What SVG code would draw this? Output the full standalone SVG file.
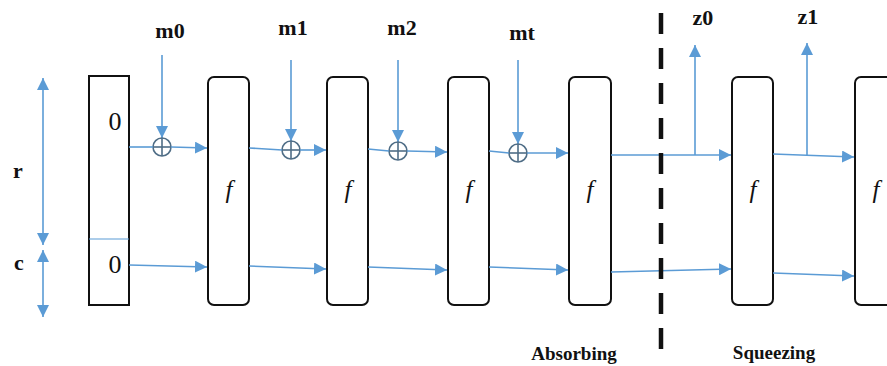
<svg xmlns="http://www.w3.org/2000/svg" width="887" height="366" viewBox="0 0 887 366">
<style>
.box{fill:#fff;stroke:#111;stroke-width:2}
.ln{stroke:#5b9bd5;stroke-width:1.6;fill:none}
.xor{fill:none;stroke:#4f6d86;stroke-width:1.6}
.lbl{font-weight:bold;font-size:22px;fill:#111;text-anchor:middle}
.zero{font-size:26px;fill:#111;text-anchor:middle}
.fn{font-style:italic;font-size:25px;fill:#111;text-anchor:middle}
.phase{font-weight:bold;font-size:19px;fill:#111;text-anchor:middle}
</style>
<defs>
<marker id="ah" markerWidth="12" markerHeight="12" refX="10" refY="5" orient="auto" markerUnits="userSpaceOnUse" viewBox="0 0 10 10">
<path d="M0,0 L10,5 L0,10 Z" fill="#5b9bd5"/>
</marker>
<marker id="ahs" markerWidth="12" markerHeight="12" refX="10" refY="5" orient="auto-start-reverse" markerUnits="userSpaceOnUse" viewBox="0 0 10 10">
<path d="M0,0 L10,5 L0,10 Z" fill="#5b9bd5"/>
</marker>
</defs>
<rect width="887" height="366" fill="#fff"/>

<g font-family="Liberation Serif, DejaVu Serif, Noto Serif, serif">
<g id="state">
<rect class="box" x="89" y="76" width="40" height="229"/>
<line x1="89" y1="239" x2="129" y2="239" stroke="#5b9bd5" stroke-width="1.2"/>
<text class="zero" x="115" y="130">0</text>
<text class="zero" x="115" y="273">0</text>
</g>
<g id="f1"><rect class="box" x="208" y="77" width="41" height="228" rx="6"/><text class="fn" x="229" y="198">f</text></g>
<g id="f2"><rect class="box" x="327" y="77" width="41" height="228" rx="6"/><text class="fn" x="348" y="198">f</text></g>
<g id="f3"><rect class="box" x="448" y="77" width="41" height="228" rx="6"/><text class="fn" x="469" y="198">f</text></g>
<g id="f4"><rect class="box" x="569" y="77" width="42" height="228" rx="6"/><text class="fn" x="590" y="198">f</text></g>
<g id="f5"><rect class="box" x="732" y="77" width="41" height="228" rx="6"/><text class="fn" x="753" y="198">f</text></g>
<g id="f6"><rect class="box" x="855" y="77" width="41" height="228" rx="6"/><text class="fn" x="876" y="198">f</text></g>

<g id="labels">
<text class="lbl" x="18" y="178">r</text>
<text class="lbl" x="19" y="270">c</text>
<text class="lbl" x="170" y="38">m0</text>
<text class="lbl" x="293" y="35">m1</text>
<text class="lbl" x="402" y="35">m2</text>
<text class="lbl" x="522" y="40">mt</text>
<text class="lbl" x="703" y="25">z0</text>
<text class="lbl" x="808" y="24">z1</text>
<text class="phase" x="574" y="360">Absorbing</text>
<text class="phase" x="774" y="359">Squeezing</text>
</g>
</g>

<g id="connectors">
<line class="ln" x1="43" y1="78" x2="43" y2="245" marker-start="url(#ahs)" marker-end="url(#ah)"/>
<line class="ln" x1="43" y1="250" x2="43" y2="317" marker-start="url(#ahs)" marker-end="url(#ah)"/>
<line class="ln" x1="162" y1="55" x2="162" y2="138" marker-end="url(#ah)"/>
<line class="ln" x1="291" y1="60" x2="291" y2="141" marker-end="url(#ah)"/>
<line class="ln" x1="398" y1="60" x2="398" y2="142" marker-end="url(#ah)"/>
<line class="ln" x1="518" y1="60" x2="518" y2="144" marker-end="url(#ah)"/>
<circle class="xor" cx="162" cy="147" r="9"/><line class="xor" x1="153" y1="147" x2="171" y2="147"/><line class="xor" x1="162" y1="138" x2="162" y2="156"/>
<circle class="xor" cx="291" cy="150" r="9"/><line class="xor" x1="282" y1="150" x2="300" y2="150"/><line class="xor" x1="291" y1="141" x2="291" y2="159"/>
<circle class="xor" cx="398" cy="151" r="9"/><line class="xor" x1="389" y1="151" x2="407" y2="151"/><line class="xor" x1="398" y1="142" x2="398" y2="160"/>
<circle class="xor" cx="518" cy="153" r="9"/><line class="xor" x1="509" y1="153" x2="527" y2="153"/><line class="xor" x1="518" y1="144" x2="518" y2="162"/>
<line class="ln" x1="129" y1="147" x2="153" y2="147"/>
<line class="ln" x1="171" y1="147" x2="207" y2="148" marker-end="url(#ah)"/>
<line class="ln" x1="249" y1="148" x2="282" y2="150"/>
<line class="ln" x1="300" y1="150" x2="326" y2="150" marker-end="url(#ah)"/>
<line class="ln" x1="368" y1="149" x2="389" y2="151"/>
<line class="ln" x1="407" y1="151" x2="447" y2="152" marker-end="url(#ah)"/>
<line class="ln" x1="489" y1="151" x2="509" y2="153"/>
<line class="ln" x1="527" y1="153" x2="568" y2="153" marker-end="url(#ah)"/>
<line class="ln" x1="611" y1="155" x2="731" y2="155" marker-end="url(#ah)"/>
<line class="ln" x1="695" y1="155" x2="695" y2="45" marker-end="url(#ah)"/>
<line class="ln" x1="773" y1="154" x2="854" y2="157" marker-end="url(#ah)"/>
<line class="ln" x1="807" y1="155" x2="807" y2="43" marker-end="url(#ah)"/>
<line class="ln" x1="129" y1="265" x2="207" y2="267" marker-end="url(#ah)"/>
<line class="ln" x1="249" y1="266" x2="326" y2="269" marker-end="url(#ah)"/>
<line class="ln" x1="368" y1="267" x2="447" y2="270" marker-end="url(#ah)"/>
<line class="ln" x1="489" y1="267" x2="568" y2="270" marker-end="url(#ah)"/>
<line class="ln" x1="611" y1="272" x2="731" y2="269" marker-end="url(#ah)"/>
<line class="ln" x1="773" y1="273" x2="854" y2="276" marker-end="url(#ah)"/>
</g>

<g id="divider">
<line x1="661" y1="13" x2="661" y2="355" stroke="#111" stroke-width="4.5" stroke-dasharray="21 14"/>
</g>
</svg>
